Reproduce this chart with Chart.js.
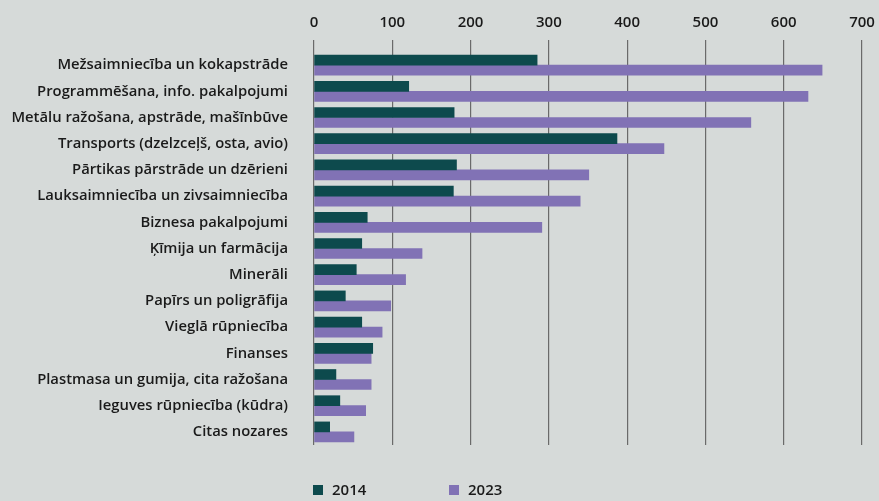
<!DOCTYPE html>
<html>
<head>
<meta charset="utf-8">
<script src="https://cdn.jsdelivr.net/npm/chart.js@4"></script>
<style>
    body { margin: 0; background: #d6dad9; }
    #wrap { position: relative; width: 879px; height: 501px; }
    #legend { position: absolute; top: 479px; left: 313px; font: 600 15px "Open Sans", sans-serif; color: #1a1a1a; }
    #legend span.item { position: absolute; white-space: nowrap; }
    #legend i { display: inline-block; width: 10px; height: 10px; margin-right: 9px; vertical-align: 0px; }
</style>
</head>
<body>
<div id="wrap">
    <canvas id="chart" width="879" height="501"></canvas>
    <div id="legend"></div>
</div>
<script>
// Data
const categories = [
    "Mežsaimniecība un kokapstrāde",
    "Programmēšana, info. pakalpojumi",
    "Metālu ražošana, apstrāde, mašīnbūve",
    "Transports (dzelzceļš, osta, avio)",
    "Pārtikas pārstrāde un dzērieni",
    "Lauksaimniecība un zivsaimniecība",
    "Biznesa pakalpojumi",
    "Ķīmija un farmācija",
    "Minerāli",
    "Papīrs un poligrāfija",
    "Vieglā rūpniecība",
    "Finanses",
    "Plastmasa un gumija, cita ražošana",
    "Ieguves rūpniecība (kūdra)",
    "Citas nozares"
];
const values2014 = [285, 121, 179, 387, 182, 178, 68, 61, 54, 40, 61, 75, 28, 33, 20];
const values2023 = [649, 631, 558, 447, 351, 340, 291, 138, 117, 98, 87, 73, 73, 66, 51];
const xTicks = [0, 100, 200, 300, 400, 500, 600, 700];

const colors = { y2014: '#0d4a4d', y2023: '#8172b5' };
const font = '"Open Sans", sans-serif';

const ctx = document.getElementById('chart').getContext('2d');
const chart = new Chart(ctx, {
    type: 'bar',
    data: {
        labels: categories,
        datasets: [
            { label: '2014', data: values2014, backgroundColor: colors.y2014, barThickness: 10 },
            { label: '2023', data: values2023, backgroundColor: colors.y2023, barThickness: 10 }
        ]
    },
    options: {
        indexAxis: 'y',
        responsive: false,
        animation: false,
        layout: { padding: { top: 10, right: 17, bottom: 56, left: 0 } },
        plugins: { legend: { display: false }, tooltip: { enabled: false } },
        scales: {
            x: {
                position: 'top',
                min: 0,
                max: 700,
                afterBuildTicks: axis => { axis.ticks = xTicks.map(v => ({ value: v })); },
                afterFit: axis => {
                    axis.height = 42;
                    // let the layout padding decide the right edge, not the "700" label
                    axis.paddingLeft = 0;
                    axis.paddingRight = 0;
                },
                grid: { color: '#6a6a6a', lineWidth: 1.2, tickLength: 12 },
                border: { display: false },
                ticks: { color: '#1a1a1a', padding: 8, font: { family: font, size: 15, weight: 600 } }
            },
            y: {
                afterFit: axis => { axis.width = 314; },
                grid: { display: false, tickLength: 0 },
                border: { display: false },
                ticks: { color: '#1a1a1a', padding: 26, font: { family: font, size: 14.8, weight: 600 } }
            }
        }
    }
});

// simple legend below the bars
const legend = document.getElementById('legend');
[['2014', colors.y2014, 0], ['2023', colors.y2023, 136]].forEach(([text, color, left]) => {
    const el = document.createElement('span');
    el.className = 'item';
    el.style.left = left + 'px';
    el.innerHTML = `<i style="background:${color}"></i>${text}`;
    legend.appendChild(el);
});
</script>
</body>
</html>
